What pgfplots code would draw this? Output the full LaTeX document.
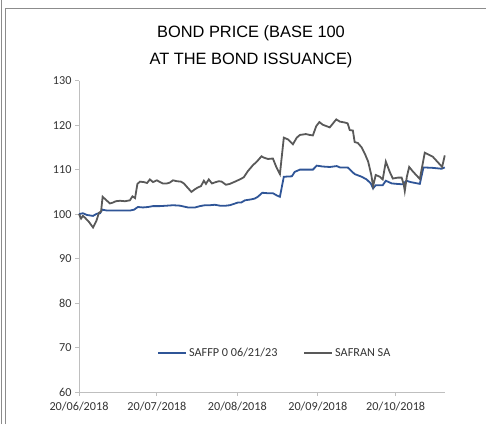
\documentclass[border=0pt]{standalone}
\usepackage{pgfplots}
\pgfplotsset{compat=1.18}
\usepackage{fontspec}
\setmainfont{Carlito}
\newfontfamily\titlefont{Liberation Sans}

\definecolor{bondblue}{HTML}{2F5597}
\definecolor{sharegray}{HTML}{595959}
\definecolor{axisgray}{HTML}{BFBFBF}
\definecolor{labelgray}{HTML}{333333}
\definecolor{framegray}{HTML}{8C8C8C}

\begin{document}
\begin{tikzpicture}[x=1bp,y=1bp]
  \path[use as bounding box] (0,0) rectangle (486,424);
  % chart frame
  \draw[framegray, line width=0.8bp] (1,0) -- (1,424);
  \draw[framegray, line width=0.8bp] (5,0) -- (5,416) -- (486,416);

  \node[font=\titlefont\fontsize{16.4bp}{20bp}\selectfont, align=center]
    at (251,391) {BOND PRICE (BASE 100};
  \node[font=\titlefont\fontsize{16.4bp}{20bp}\selectfont, align=center]
    at (251,364) {AT THE BOND ISSUANCE)};

\begin{axis}[
    at={(79bp,32bp)},
    anchor=south west,
    scale only axis,
    width=366bp,
    height=311.3bp,
    xmin=0, xmax=141,
    ymin=60, ymax=130,
    ytick={60,70,...,130},
    xtick={0,30,61,92,122},
    xticklabels={20/06/2018,20/07/2018,20/08/2018,20/09/2018,20/10/2018},
    axis x line*=bottom,
    axis y line*=left,
    axis line style={axisgray, line width=0.8bp, -},
    tick style={axisgray, line width=0.8bp},
    major tick length=4bp,
    tick align=outside,
    /pgf/number format/assume math mode=true,
    ticklabel style={font=\fontsize{12.2bp}{14bp}\selectfont, text=labelgray},
    xticklabel style={yshift=-2.5bp},
    legend style={
      draw=none, fill=none,
      at={(0.535,0.125)}, anchor=center,
      legend columns=2,
      font=\fontsize{12.2bp}{14bp}\selectfont,
      text=labelgray,
      /tikz/every even column/.append style={column sep=24bp},
    },
    legend image code/.code={\draw[#1] (0bp,0bp) -- (28bp,0bp);},
    legend cell align=left,
    clip=false,
]

  % SAFFP 0 06/21/23
  \addplot[bondblue, line width=1.8bp] coordinates {
    (0,100.0) (1.5,100.2) (3.1,99.8) (5.4,99.6) (6.9,100.1) (8.1,100.2)
    (9.0,101.0) (10.8,100.8) (15.8,100.8) (19.6,100.8) (21.2,101.0)
    (22.7,101.6) (24.6,101.5) (26.6,101.6) (28.5,101.8) (31.2,101.8)
    (33.9,101.9) (36.2,102.0) (38.9,101.9) (40.4,101.7) (42.0,101.5)
    (44.7,101.5) (46.6,101.8) (48.5,102.0) (50.4,102.0) (52.3,102.1)
    (54.3,101.9) (56.6,101.9) (58.1,102.0) (59.7,102.3) (61.2,102.6)
    (62.5,102.6) (63.9,103.1) (66.2,103.3) (67.7,103.5) (68.9,103.9)
    (70.6,104.8) (72.7,104.7) (74.7,104.7) (76.2,104.2) (77.4,103.9)
    (78.9,108.4) (82.0,108.5) (83.1,109.5) (85.1,110.0) (87.4,110.0)
    (90.1,110.0) (91.6,110.9) (93.9,110.7) (96.6,110.6) (99.3,110.8)
    (100.5,110.5) (103.5,110.5) (104.9,109.7) (106.2,109.0) (108.9,108.4)
    (110.8,107.8) (112.4,106.9) (113.3,105.8) (114.3,106.5) (117.0,106.5)
    (118.2,107.5) (120.5,106.9) (122.4,106.8) (124.7,106.7) (126.1,107.5)
    (127.8,107.2) (131.3,106.8) (132.7,110.5) (136.3,110.4) (139.7,110.2)
    (140.9,110.5)
  };
  \addlegendentry{SAFFP 0 06/21/23}

  % SAFRAN SA
  \addplot[sharegray, line width=1.8bp] coordinates {
    (0,100.0) (0.8,99.0) (1.5,99.6) (2.3,99.2) (3.9,98.2) (5.4,97.0)
    (6.7,98.5) (7.7,100.3) (8.5,100.6) (9.1,103.9) (10.4,103.2)
    (11.9,102.4) (13.1,102.6) (14.2,102.9) (15.8,103.0) (17.7,102.9)
    (19.6,103.1) (20.6,104.0) (21.6,103.6) (22.5,106.8) (23.5,107.3)
    (25.0,107.2) (26.2,107.0) (27.3,107.8) (28.5,107.2) (30.0,107.6)
    (31.2,107.2) (32.3,106.9) (33.9,106.9) (35.0,107.1) (36.2,107.6)
    (37.7,107.4) (39.3,107.3) (40.4,106.9) (41.6,106.1) (43.3,105.0)
    (44.7,105.6) (45.8,106.0) (47.0,106.3) (48.1,107.5) (48.9,106.8)
    (50.0,107.8) (51.2,106.9) (52.7,107.2) (53.9,107.4) (55.0,107.3)
    (56.6,106.6) (58.1,106.8) (59.7,107.2) (61.2,107.6) (62.6,108.0)
    (63.5,108.3) (65.1,109.7) (67.0,111.0) (68.5,111.8) (70.3,113.0)
    (71.2,112.7) (72.8,112.4) (74.7,112.5) (76.0,110.6) (77.4,109.0)
    (78.9,117.2) (80.5,116.8) (82.4,115.7) (83.9,117.2) (85.1,117.8)
    (87.4,118.0) (88.9,117.8) (90.1,117.7) (91.4,119.8) (92.6,120.7)
    (93.9,120.1) (96.6,119.5) (99.1,121.3) (100.5,120.8) (102.4,120.6)
    (103.5,120.4) (104.3,118.9) (105.5,118.8) (106.2,116.2) (107.4,116.0)
    (108.9,115.0) (110.1,113.6) (111.4,111.8) (112.6,108.8) (113.3,106.3)
    (114.3,108.8) (115.9,108.4) (117.0,107.8) (118.2,111.8) (119.7,109.5)
    (120.9,108.0) (122.8,108.2) (124.3,108.2) (125.1,106.7) (125.5,105.2)
    (126.3,108.4) (127.2,110.6) (128.6,109.6) (131.3,107.9) (133.2,113.8)
    (136.3,112.9) (139.9,110.6) (140.9,113.2)
  };
  \addlegendentry{SAFRAN SA}

\end{axis}
\end{tikzpicture}
\end{document}
